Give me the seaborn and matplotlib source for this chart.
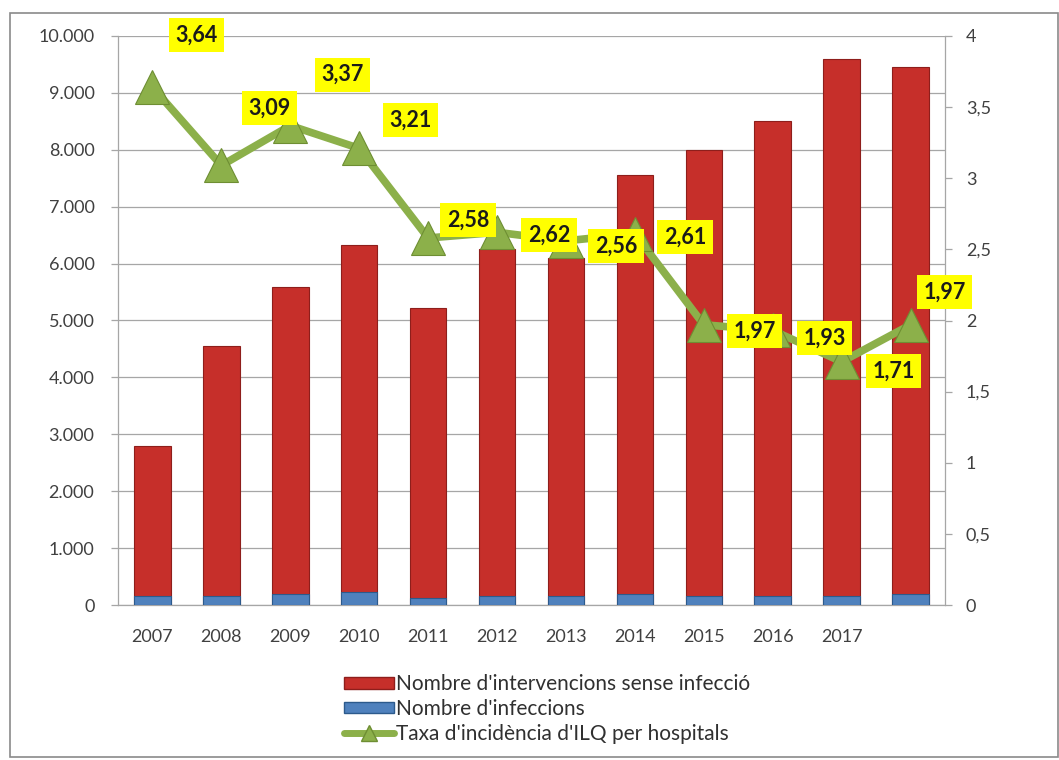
import numpy as np
import pandas as pd
import matplotlib
matplotlib.use("Agg")
import matplotlib.pyplot as plt
import seaborn as sns
from matplotlib.patches import Patch, Rectangle
from matplotlib.lines import Line2D
from matplotlib.ticker import FuncFormatter, MultipleLocator

# ---- data ----
YEARS = ["2007", "2008", "2009", "2010", "2011", "2012",
         "2013", "2014", "2015", "2016", "2017", ""]
SENSE_INFECCIO = [2650, 4390, 5380, 6110, 5090, 6090,
                  5940, 7360, 7840, 8340, 9430, 9260]
INFECCIONS = [150, 160, 200, 225, 130, 165,
              165, 195, 160, 165, 165, 195]
TAXA = [3.64, 3.09, 3.37, 3.21, 2.58, 2.62,
        2.56, 2.61, 1.97, 1.93, 1.71, 1.97]
TAXA_LABELS = ["3,64", "3,09", "3,37", "3,21", "2,58", "2,62",
               "2,56", "2,61", "1,97", "1,93", "1,71", "1,97"]

# label offsets (pixels) for the yellow boxes, as placed in the original
LABEL_OFFSETS = [(44, 52), (48, 57), (52, 51), (51, 28), (40, 18), (52, -3),
                 (50, -5), (50, -3), (51, -6), (52, -8), (52, -9), (34, 33)]

RED = "#C62F2A"
RED_EDGE = "#8E1E1B"
BLUE = "#4F81BD"
BLUE_EDGE = "#2C5A8C"
GREEN = "#8CB04A"
GREEN_DARK = "#6E8E33"
GRID = "#A6A6A6"
TXT = "#404040"

df = pd.DataFrame({
    "pos": np.arange(len(YEARS)),
    "sense": SENSE_INFECCIO,
    "infeccions": INFECCIONS,
    "taxa": TAXA,
})
df["total"] = df["sense"] + df["infeccions"]

sns.set_theme(style="white")
plt.rcParams["font.family"] = ["Lato", "DejaVu Sans"]

fig = plt.figure(figsize=(10.59, 7.60), dpi=100)
ax = fig.add_axes([118 / 1059, 1 - 605 / 760, (945 - 118) / 1059, (605 - 36) / 760])

# stacked bars: red total first, blue infections on top of it at the base
sns.barplot(data=df, x="pos", y="total", color=RED, width=0.53,
            edgecolor=RED_EDGE, linewidth=0.8, saturation=1, ax=ax, zorder=2)
sns.barplot(data=df, x="pos", y="infeccions", color=BLUE, width=0.53,
            edgecolor=BLUE_EDGE, linewidth=0.8, saturation=1, ax=ax, zorder=3)

ax.set_xlim(-0.5, len(YEARS) - 0.5)
ax.set_ylim(0, 10000)
ax.yaxis.set_major_locator(MultipleLocator(1000))
ax.yaxis.set_major_formatter(FuncFormatter(lambda v, _: f"{int(v):,}".replace(",", ".")))
ax.set_xticks(df["pos"])
ax.set_xticklabels(YEARS)
ax.set_xticks(np.arange(-0.5, len(YEARS), 1), minor=True)
ax.tick_params(axis="x", which="major", length=0, pad=17, labelsize=13, labelcolor=TXT)
ax.tick_params(axis="x", which="minor", length=7, width=0.9, color=GRID, direction="out")
ax.tick_params(axis="y", length=5, width=0.9, color=GRID, direction="out",
               pad=12, labelsize=13, labelcolor=TXT, left=True)
ax.set_xlabel("")
ax.set_ylabel("")
ax.grid(axis="y", color=GRID, linewidth=0.9, zorder=0)
ax.set_axisbelow(True)
for side in ["left", "bottom", "right"]:
    ax.spines[side].set_color(GRID)
    ax.spines[side].set_linewidth(0.9)
ax.spines["top"].set_visible(False)

# secondary axis with the incidence rate
ax2 = ax.twinx()
sns.lineplot(x=df["pos"], y=df["taxa"], ax=ax2, color=GREEN, linewidth=5.5,
             marker="^", markersize=24, markerfacecolor=GREEN,
             markeredgecolor=GREEN_DARK, markeredgewidth=0.8, zorder=4)
ax2.set_ylim(0, 4)
ax2.yaxis.set_major_locator(MultipleLocator(0.5))
ax2.yaxis.set_major_formatter(FuncFormatter(lambda v, _: f"{v:g}".replace(".", ",")))
ax2.tick_params(axis="y", length=5, width=0.9, color=GRID, direction="out",
                pad=10, labelsize=13, labelcolor=TXT, right=True)
ax2.set_ylabel("")
ax2.set_xlabel("")
for side in ["left", "bottom", "right", "top"]:
    ax2.spines[side].set_visible(False)

for x, y, txt, (dx, dy) in zip(df["pos"], df["taxa"], TAXA_LABELS, LABEL_OFFSETS):
    ax2.annotate(txt, (x, y), xytext=(dx * 0.72, dy * 0.72), textcoords="offset points",
                 ha="center", va="center", fontsize=15.5, fontweight="bold",
                 color="#1a1a1a", zorder=6, annotation_clip=False,
                 bbox=dict(boxstyle="square,pad=0.3", fc="#FFFF00", ec="none"))

handles = [
    Patch(facecolor=RED, edgecolor=RED_EDGE),
    Patch(facecolor=BLUE, edgecolor=BLUE_EDGE),
    Line2D([0], [0], color=GREEN, linewidth=5, marker="^", markersize=12,
           markerfacecolor=GREEN, markeredgecolor=GREEN_DARK),
]
labels = ["Nombre d'intervencions sense infecció",
          "Nombre d'infeccions",
          "Taxa d'incidència d'ILQ per hospitals"]
fig.legend(handles, labels, loc="upper left", bbox_to_anchor=(336 / 1059, 1 - 666 / 760),
           frameon=False, fontsize=15, handlelength=2.4, handleheight=0.45,
           handletextpad=0.1, labelspacing=0.22, borderaxespad=0, labelcolor="#303030")

# outer frame of the chart area
fig.patches.append(Rectangle((10 / 1059, 3 / 760), 1048 / 1059, 744 / 760,
                             transform=fig.transFigure, fill=False,
                             edgecolor="#8a8a8a", linewidth=1.2))

fig.savefig("out.png", dpi=100, facecolor="white")
